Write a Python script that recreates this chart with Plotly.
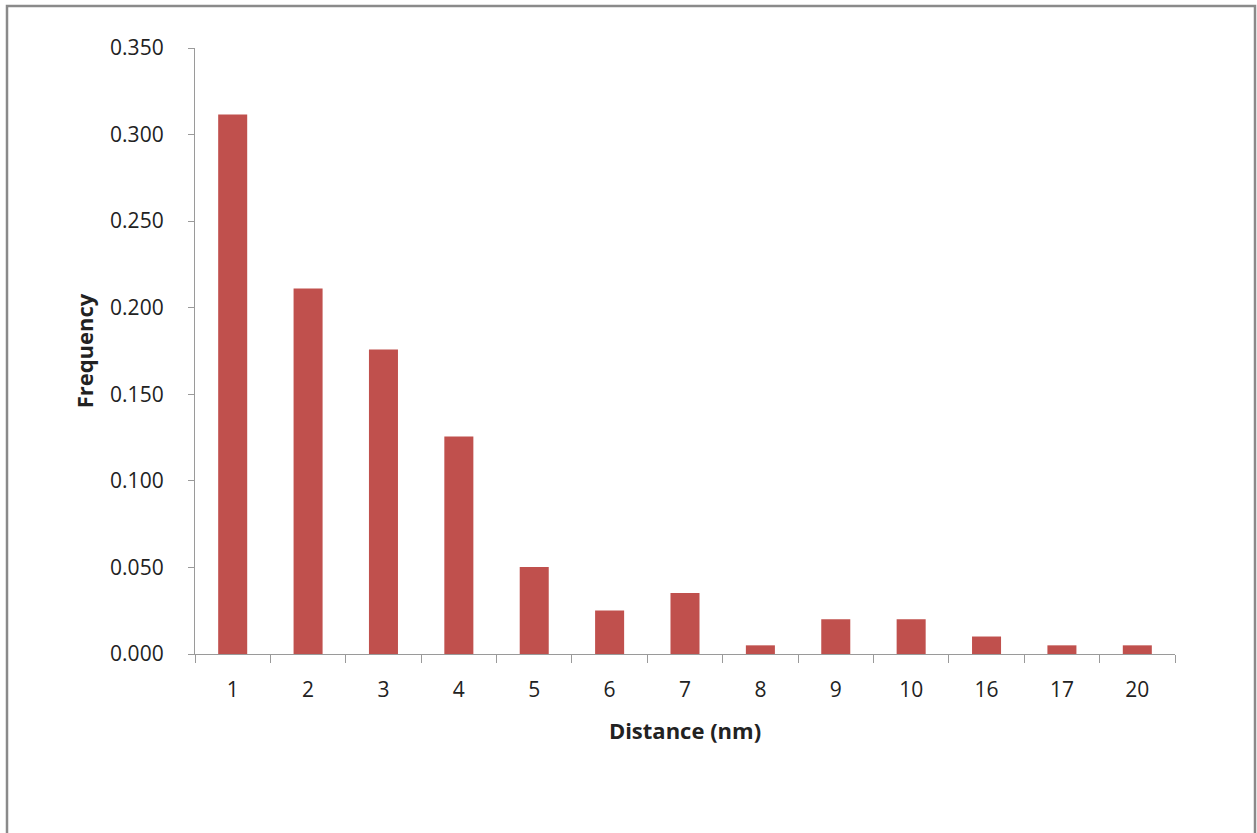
import plotly.graph_objects as go

distances = ["1", "2", "3", "4", "5", "6", "7", "8", "9", "10", "16", "17", "20"]
frequency = [0.3116, 0.2111, 0.1759, 0.1256, 0.0503, 0.0251, 0.0352, 0.0050,
             0.0201, 0.0201, 0.0101, 0.0050, 0.0050]

W, H = 1257, 833
ml, mr, mt, mb = 195, 82, 48, 179
pw, ph = W - ml - mr, H - mt - mb

def px(x):
    return (x - ml) / pw

def py(y):
    return (H - mb - y) / ph

font_family = "Open Sans, Lato, sans-serif"

fig = go.Figure(go.Bar(x=distances, y=frequency, marker_color="#C0504D",
                       marker_line_width=0))

fig.update_layout(
    width=W, height=H,
    margin=dict(l=ml, r=mr, t=mt, b=mb),
    paper_bgcolor="white", plot_bgcolor="white",
    bargap=0.615,
    showlegend=False,
    font=dict(family=font_family, color="#222", size=21),
    xaxis=dict(
        type="category",
        showline=True, linecolor="#9a9a9a", linewidth=1.3,
        ticks="outside", ticklen=8, tickcolor="#9a9a9a", tickson="boundaries",
        showgrid=False, ticklabelstandoff=17,
        title=dict(text="<b>Distance (nm)</b>", standoff=21,
                   font=dict(size=22, family=font_family)),
    ),
    yaxis=dict(
        range=[0, 0.35], dtick=0.05, tickformat=".3f",
        showline=True, linecolor="#9a9a9a", linewidth=1.3,
        ticks="outside", ticklen=6, tickcolor="#9a9a9a",
        showgrid=False, zeroline=False, ticklabelstandoff=20,
        title=dict(text="<b>Frequency</b>", standoff=10,
                   font=dict(size=22, family=font_family)),
    ),
    shapes=[dict(type="rect", xref="paper", yref="paper",
                 x0=px(7), x1=px(1255), y0=py(845), y1=py(6),
                 line=dict(color="#8a8a8a", width=2.5), fillcolor="rgba(0,0,0,0)",
                 layer="below")],
)

fig.write_html("out.html",
               config={"displayModeBar": False},
               post_script="document.body.style.margin='0';document.body.style.padding='0';"
                           "window.dispatchEvent(new Event('resize'));")
